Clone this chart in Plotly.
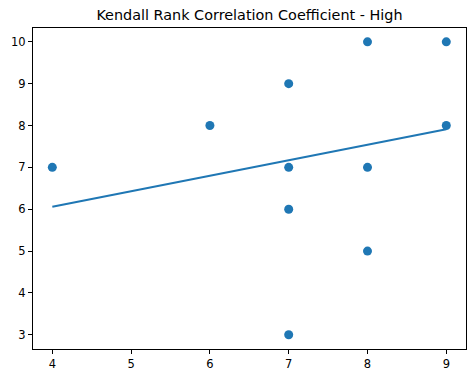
import plotly.graph_objects as go

# data
x_vals = [4, 6, 7, 7, 7, 7, 8, 8, 8, 9, 9]
y_vals = [7, 8, 9, 7, 6, 3, 10, 7, 5, 10, 8]
fit_x = [4, 9]
fit_y = [6.06, 7.91]
title_text = "Kendall Rank Correlation Coefficient - High"
x_ticks = [4, 5, 6, 7, 8, 9]
y_ticks = [3, 4, 5, 6, 7, 8, 9, 10]

blue = "#1f77b4"

fig = go.Figure()
fig.add_trace(go.Scatter(x=x_vals, y=y_vals, mode="markers",
                         marker=dict(color=blue, size=9, line=dict(width=0)),
                         showlegend=False))
fig.add_trace(go.Scatter(x=fit_x, y=fit_y, mode="lines",
                         line=dict(color=blue, width=2), showlegend=False))

axis_common = dict(showgrid=False, zeroline=False, showline=True, linecolor="black",
                   linewidth=1, mirror=True, ticks="outside", ticklen=4, tickwidth=1,
                   tickcolor="black", automargin=False,
                   tickfont=dict(family="DejaVu Sans", size=11.5, color="black"))

fig.update_xaxes(range=[3.755, 9.25], tickvals=x_ticks, **axis_common)
fig.update_yaxes(range=[2.66, 10.33], tickvals=y_ticks, **axis_common)

fig.update_layout(
    width=474, height=379,
    margin=dict(l=33, r=8, t=28, b=30, autoexpand=False),
    plot_bgcolor="white", paper_bgcolor="white",
    title=dict(text=title_text, x=0.5, xref="paper", y=1 - 15 / 379, yref="container",
               xanchor="center", yanchor="middle", automargin=False,
               font=dict(family="DejaVu Sans", size=14.4, color="black")),
)

# remove the browser's default 8px body margin so the figure fills the window
fig.write_html("out.html", config={"displayModeBar": False},
               post_script="document.body.style.margin='0';")
